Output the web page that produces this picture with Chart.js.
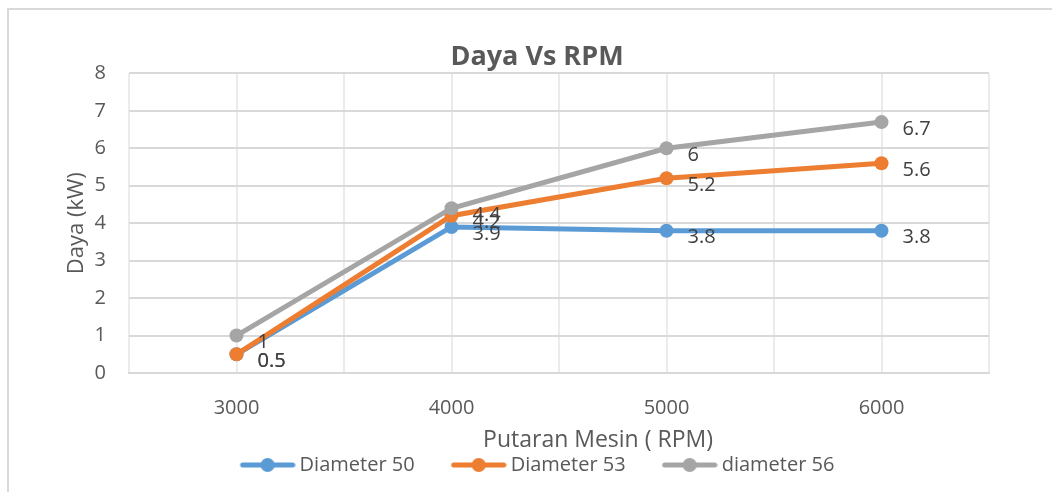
<!DOCTYPE html>
<html>
<head>
<meta charset="utf-8">
<script src="https://cdn.jsdelivr.net/npm/chart.js@4.4.1/dist/chart.umd.min.js"></script>
<style>
    html, body { margin: 0; padding: 0; background: #fff; }
    #frame { position: absolute; left: 7px; top: 8px; width: 1100px; height: 600px; border: 2px solid #d9d9d9; }
    #wrap { position: absolute; left: 0; top: 0; width: 1052px; height: 492px; }
</style>
</head>
<body>
<div id="frame"></div>
<div id="wrap"><canvas id="myChart"></canvas></div>
<script>
const rpm = [3000, 4000, 5000, 6000]
const diameter50 = [0.5, 3.9, 3.8, 3.8]
const diameter53 = [0.5, 4.2, 5.2, 5.6]
const diameter56 = [1, 4.4, 6, 6.7]
const seriesNames = ['Diameter 50', 'Diameter 53', 'diameter 56']
const seriesColors = ['#5B9BD5', '#ED7D31', '#A5A5A5']
const yTicks = [0, 1, 2, 3, 4, 5, 6, 7, 8]
const xTitle = 'Putaran Mesin ( RPM)'

const font = "'Open Sans', sans-serif"
const textColor = '#595959'

// little line + dot sample for the legend, like Excel
function legendIcon(color) {
    const c = document.createElement('canvas')
    c.width = 62
    c.height = 16
    const g = c.getContext('2d')
    g.strokeStyle = color
    g.lineWidth = 5
    g.lineCap = 'round'
    g.beginPath()
    g.moveTo(9, 8)
    g.lineTo(59, 8)
    g.stroke()
    g.fillStyle = color
    g.beginPath()
    g.arc(34, 8, 7, 0, Math.PI * 2)
    g.fill()
    return c
}

const valueLabels = {
    id: 'valueLabels',
    afterDatasetsDraw(chart) {
        const ctx = chart.ctx
        ctx.save()
        ctx.font = "20px " + font
        ctx.fillStyle = '#404040'
        ctx.textAlign = 'left'
        ctx.textBaseline = 'middle'
        chart.data.datasets.forEach((ds, i) => {
            chart.getDatasetMeta(i).data.forEach((pt, j) => {
                ctx.fillText(String(ds.data[j].y), pt.x + 21, pt.y + 7)
            })
        })
        ctx.restore()
    }
}

// Excel puts the axis title a bit right of centre, so draw it here
const xAxisTitle = {
    id: 'xAxisTitle',
    afterDraw(chart) {
        const x = chart.scales.x
        const ctx = chart.ctx
        ctx.save()
        ctx.font = "23px " + font
        ctx.fillStyle = textColor
        ctx.textAlign = 'center'
        ctx.textBaseline = 'middle'
        ctx.fillText(xTitle, (x.left + x.right) / 2 + 39, 440)
        ctx.restore()
    }
}

const series = [diameter50, diameter53, diameter56]
const datasets = series.map((vals, i) => ({
    label: seriesNames[i],
    data: vals.map((v, j) => ({ x: rpm[j], y: v })),
    borderColor: seriesColors[i],
    backgroundColor: seriesColors[i],
    borderWidth: 5,
    pointRadius: 7,
    pointHoverRadius: 7,
    pointBorderWidth: 0,
    tension: 0,
    order: series.length - i
}))

const ctx = document.getElementById('myChart')

new Chart(ctx, {
    type: 'line',
    data: { datasets },
    plugins: [valueLabels, xAxisTitle],
    options: {
        responsive: true,
        maintainAspectRatio: false,
        animation: false,
        devicePixelRatio: 1,
        layout: { padding: { left: 22, right: 0, top: 41, bottom: 7 } },
        plugins: {
            title: {
                display: true,
                text: 'Daya Vs RPM',
                color: textColor,
                font: { family: font, size: 27, weight: 'bold', lineHeight: 1.2 },
                padding: { top: 0, bottom: 0 }
            },
            legend: {
                position: 'bottom',
                labels: {
                    usePointStyle: true,
                    pointStyleWidth: 50,
                    padding: 36,
                    color: textColor,
                    font: { family: font, size: 20 },
                    generateLabels(chart) {
                        return chart.data.datasets.map((ds, i) => ({
                            text: ds.label,
                            pointStyle: legendIcon(seriesColors[i]),
                            fillStyle: seriesColors[i],
                            strokeStyle: seriesColors[i],
                            lineWidth: 0,
                            fontColor: textColor,
                            hidden: false,
                            datasetIndex: i
                        }))
                    }
                }
            },
            tooltip: { enabled: false }
        },
        scales: {
            x: {
                type: 'linear',
                min: 2500,
                max: 6500,
                grid: { color: '#ebebeb', lineWidth: 2, drawTicks: false },
                border: { display: true, color: '#d9d9d9', width: 2 },
                afterFit: (scale) => { scale.height = 46 },
                ticks: {
                    stepSize: 500,
                    autoSkip: false,
                    padding: 23,
                    color: textColor,
                    font: { family: font, size: 20 },
                    callback: (v) => rpm.includes(v) ? String(v) : ''
                }
            },
            y: {
                min: 0,
                max: 8,
                grid: { color: '#d9d9d9', lineWidth: 2, drawTicks: false },
                border: { display: false },
                afterBuildTicks: (scale) => { scale.ticks = yTicks.map(v => ({ value: v })) },
                afterFit: (scale) => { scale.width = 129 - 22 },
                ticks: {
                    padding: 23,
                    color: textColor,
                    font: { family: font, size: 20 }
                },
                title: {
                    display: true,
                    text: 'Daya (kW)',
                    color: textColor,
                    font: { family: font, size: 22 },
                    padding: { top: 42, bottom: 0 }
                }
            },
            // empty right-hand axis, only keeps the plot off the right edge
            yRight: {
                position: 'right',
                display: true,
                grid: { display: false },
                border: { display: false },
                ticks: { display: false },
                afterFit: (scale) => { scale.width = 1052 - 989 }
            }
        }
    }
})
</script>
</body>
</html>
